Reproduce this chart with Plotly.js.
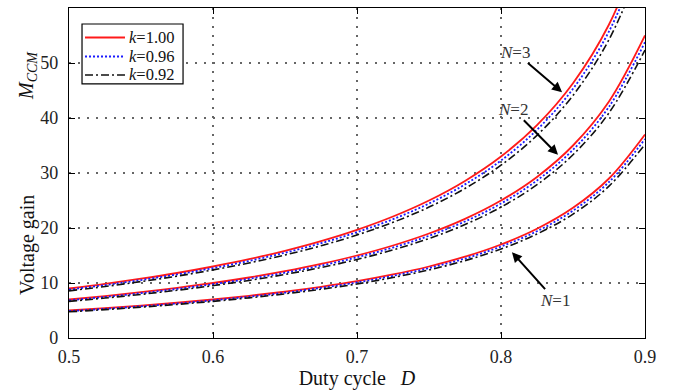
<!DOCTYPE html>
<html><head><meta charset="utf-8">
<script src="https://cdn.plot.ly/plotly-3.0.1.min.js"></script>
<style>html,body{margin:0;padding:0;background:#fff}</style>
</head><body><div id="chart" style="width:679px;height:390px"></div>
<script>
const D = [0.5,0.525,0.55,0.575,0.6,0.625,0.65,0.675,0.7,0.725,0.75,0.775,0.8,0.825,0.85,0.875,0.9];

const N1_k100 = [5.0,5.42,5.89,6.41,7.0,7.67,8.43,9.31,10.33,11.55,13.0,14.78,17.0,19.86,23.67,29.0,37.0];
const N1_k096 = [4.89,5.30,5.76,6.27,6.85,7.50,8.24,9.11,10.10,11.30,12.71,14.45,16.63,19.42,23.15,28.36,36.19];
const N1_k092 = [4.76,5.16,5.61,6.10,6.66,7.30,8.03,8.86,9.83,11.00,12.38,14.07,16.18,18.91,22.53,27.61,35.22];

const N2_k100 = [7.0,7.63,8.33,9.12,10.0,11.0,12.14,13.46,15.0,16.82,19.0,21.67,25.0,29.29,35.0,43.0,55.0];
const N2_k096 = [6.85,7.46,8.15,8.92,9.78,10.76,11.87,13.16,14.67,16.45,18.58,21.19,24.45,28.65,34.23,42.05,53.79];
const N2_k092 = [6.66,7.26,7.93,8.68,9.52,10.47,11.56,12.81,14.28,16.01,18.09,20.63,23.80,27.88,33.32,40.94,52.36];

const N3_k100 = [9.0,9.84,10.78,11.82,13.0,14.33,15.86,17.62,19.67,22.09,25.0,28.56,33.0,38.71,46.33,57.0,73.0];
const N3_k096 = [8.80,9.62,10.54,11.56,12.71,14.01,15.51,17.23,19.24,21.60,24.45,27.93,32.27,37.86,45.31,55.75,71.39];
const N3_k092 = [8.57,9.37,10.26,11.25,12.38,13.64,15.10,16.77,18.73,21.03,23.80,27.19,31.42,36.85,44.11,54.26,69.50];

const legendNames = ['<i>k</i>=1.00','<i>k</i>=0.96','<i>k</i>=0.92'];
const xTicks = [0.5,0.6,0.7,0.8,0.9];
const yTicks = [0,10,20,30,40,50,60];

const styles = [
  {color:'#ff1a1a', width:1.8, dash:'solid'},
  {color:'#1a1aff', width:1.8, dash:'2px,2px'},
  {color:'#111111', width:1.6, dash:'8px,3px,2px,3px'}
];
const groups = [
  [N1_k100,N1_k096,N1_k092],
  [N2_k100,N2_k096,N2_k092],
  [N3_k100,N3_k096,N3_k092]
];
const traces = [];
groups.forEach((g,gi)=>{
  g.forEach((ys,ki)=>{
    traces.push({x:D, y:ys, type:'scatter', mode:'lines',
      line:{color:styles[ki].color, width:styles[ki].width, dash:styles[ki].dash, shape:'spline'},
      name:legendNames[ki], showlegend:false, hoverinfo:'skip'});
  });
});

const fnt = {family:'"Liberation Serif","Times New Roman",serif', color:'#222'};
const ann = (txt, tx, ty, hx, hy) => ({x:hx, y:hy, ax:tx, ay:ty, axref:'x', ayref:'y', xref:'x', yref:'y',
  text:txt, showarrow:true, arrowhead:2, arrowsize:1, arrowwidth:2, arrowcolor:'#000',
  font:{...fnt, size:17, color:'#333'}});

// custom legend (paper coordinates)
const legY = [0.9106, 0.853, 0.797];
const shapes = [{type:'rect', xref:'paper', yref:'paper', x0:0.0226, x1:0.198, y0:0.770, y1:0.9515,
  line:{color:'#000', width:1.2}, fillcolor:'#fff', layer:'above'}];
const legAnn = [];
legY.forEach((yy,i)=>{
  shapes.push({type:'line', xref:'paper', yref:'paper', x0:0.0278, x1:0.0972, y0:yy, y1:yy, layer:'above',
    line:{color:styles[i].color, width:styles[i].width, dash:styles[i].dash}});
  legAnn.push({xref:'paper', yref:'paper', x:0.1024, y:yy, xanchor:'left', yanchor:'middle', showarrow:false,
    text:legendNames[i], font:{...fnt, size:16.5, color:'#111'}, borderpad:0});
});

// y-axis title parts (placed like the reference)
const yTitle = [
  {text:'Voltage gain', y:0.282},
  {text:'<i>M</i><sub><i>CCM</i></sub>', y:0.797}
].map(t=>({xref:'paper', yref:'paper', x:-0.0712, y:t.y, xanchor:'center', yanchor:'middle',
  textangle:-90, showarrow:false, text:t.text, font:{...fnt, size:20, color:'#111'}}));

const layout = {
  width:679, height:390,
  margin:{l:69, r:34, t:8, b:52},
  paper_bgcolor:'#fff', plot_bgcolor:'#fff',
  font:{...fnt, size:17},
  showlegend:false,
  xaxis:{range:[0.5,0.9], tickvals:xTicks, ticktext:xTicks.map(v=>v.toFixed(1)),
    showline:true, linecolor:'#000', linewidth:1.2, mirror:'ticks', ticks:'inside', ticklen:6, tickcolor:'#000',
    showgrid:true, gridcolor:'#666', griddash:'2px,7px', gridwidth:1.2, zeroline:false,
    tickfont:{...fnt, size:18}, ticklabelstandoff:2,
    title:{text:'Duty cycle&nbsp;&nbsp;&nbsp;<i>D</i>', font:{...fnt, size:20, color:'#111'}, standoff:4}},
  yaxis:{range:[0,60], tickvals:yTicks,
    showline:true, linecolor:'#000', linewidth:1.2, mirror:'ticks', ticks:'inside', ticklen:6, tickcolor:'#000',
    showgrid:true, gridcolor:'#666', griddash:'2px,7px', gridwidth:1.2, zeroline:false,
    tickfont:{...fnt, size:18}, ticklabelstandoff:6},
  shapes:shapes,
  annotations:[
    ann('<i>N</i>=3', 0.8097, 52.0, 0.8424, 44.7),
    ann('<i>N</i>=2', 0.8083, 41.6, 0.8396, 33.3),
    ann('<i>N</i>=1', 0.8375, 6.9, 0.8076, 15.6)
  ].concat(legAnn, yTitle)
};
Plotly.newPlot('chart', traces, layout, {displayModeBar:false, staticPlot:true});
</script></body></html>
